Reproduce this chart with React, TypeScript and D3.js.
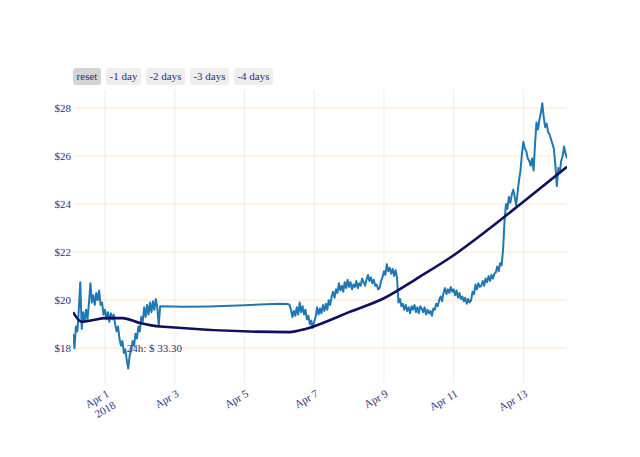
import { scaleUtc, scaleLinear, line, curveMonotoneX, curveLinear } from "d3";

// hourly price, first stretch
const priceAStart = "2018-03-31T02:00:00Z";
const priceA = [
  18.6, 18.0, 18.9, 18.7, 19.6, 20.75, 18.8, 19.5, 19.1, 19.6,
  19.2, 19.9, 20.7, 19.9, 20.2, 19.8, 20.3, 20.0, 20.4, 19.8,
  19.9, 19.4, 19.6, 19.2, 19.5, 19.1, 19.45, 19.2, 19.4, 19.0,
  18.7, 18.9, 18.4, 18.1, 18.3, 17.8, 17.95, 17.5, 17.15, 17.7,
  17.9, 18.3, 18.1, 18.6, 18.4, 18.9, 18.7, 19.3, 19.1, 19.7,
  19.3, 19.8, 19.4, 19.9, 19.5, 19.95, 19.6, 20.05, 19.7, 18.95,
  19.75,
];

// sparse points across the data gap
const gapTimes = [
  "2018-04-03T06:00:00Z",
  "2018-04-04T00:00:00Z",
  "2018-04-05T00:00:00Z",
  "2018-04-06T00:00:00Z",
  "2018-04-06T06:00:00Z",
];
const gapValues = [19.72, 19.74, 19.79, 19.85, 19.84];

// hourly price, second stretch
const priceBStart = "2018-04-06T07:00:00Z";
const priceB = [
  19.8, 19.6, 19.3, 19.55, 19.35, 19.7, 19.4, 19.9, 19.5, 19.75,
  19.4, 19.6, 19.2, 19.35, 19.0, 19.15, 18.85, 19.1, 19.3, 19.7,
  19.4, 19.65, 19.45, 19.8, 19.55, 19.85, 19.6, 20.0, 19.8, 20.15,
  20.35, 20.1, 20.45, 20.3, 20.7, 20.4, 20.6, 20.35, 20.75, 20.5,
  20.85, 20.55, 20.75, 20.45, 20.65, 20.55, 20.8, 20.5, 20.7, 20.6,
  20.9, 20.75, 20.6, 20.85, 21.05, 20.8, 20.95, 20.7, 20.85, 20.6,
  20.65, 20.45, 20.5, 20.8, 20.95, 21.2, 21.05, 21.5, 21.2, 21.35,
  21.1, 21.3, 21.0, 21.25, 20.95, 19.9, 20.05, 19.75, 19.85, 19.6,
  19.8, 19.55, 19.7, 19.45, 19.75, 19.6, 19.8, 19.5, 19.7, 19.45,
  19.75, 19.65, 19.5, 19.7, 19.4, 19.6, 19.45, 19.55, 19.35, 19.65,
  19.6, 19.85, 19.75, 20.0, 20.15, 19.95, 20.3, 20.5, 20.25, 20.45,
  20.3, 20.55, 20.35, 20.45, 20.2, 20.4, 20.1, 20.3, 20.05, 20.15,
  19.95, 20.1, 19.85, 20.05, 19.9, 20.0, 20.35, 20.25, 20.65, 20.45,
  20.7, 20.55, 20.6, 20.8, 20.6, 20.9, 20.75, 21.0, 20.8, 21.05,
  20.9, 21.1, 21.15, 21.4, 21.2, 21.55, 21.45, 22.1, 23.3, 24.0,
  23.8, 24.3, 24.05, 24.4, 24.6, 24.3, 23.95, 24.5, 25.0, 25.4,
  26.1, 26.6, 26.3, 26.2, 25.9, 25.8, 25.6, 25.9, 25.4, 26.5,
  27.4, 27.1, 27.5, 27.8, 28.2, 27.6, 27.2, 27.35, 27.0, 26.9,
  26.7, 26.5, 26.3, 25.6, 24.75, 25.5, 25.3, 25.8, 26.0, 26.4,
  26.1, 25.9,
];

const trendTimes = [
  "2018-03-31T02:00:00Z",
  "2018-03-31T08:00:00Z",
  "2018-03-31T16:00:00Z",
  "2018-04-01T00:00:00Z",
  "2018-04-01T12:00:00Z",
  "2018-04-02T00:00:00Z",
  "2018-04-02T14:00:00Z",
  "2018-04-06T07:00:00Z",
  "2018-04-06T18:00:00Z",
  "2018-04-07T06:00:00Z",
  "2018-04-08T00:00:00Z",
  "2018-04-09T00:00:00Z",
  "2018-04-10T00:00:00Z",
  "2018-04-11T00:00:00Z",
  "2018-04-12T00:00:00Z",
  "2018-04-13T00:00:00Z",
  "2018-04-14T06:00:00Z",
];
const trendValues = [
  19.5, 19.1, 19.17, 19.25, 19.25, 19.05, 18.9, 18.67, 18.8, 19.05,
  19.5, 20.08, 20.95, 21.87, 22.95, 24.1, 25.55,
];

const yTicks = [18, 20, 22, 24, 26, 28];
const xTicks = [
  "2018-04-01T00:00:00Z",
  "2018-04-03T00:00:00Z",
  "2018-04-05T00:00:00Z",
  "2018-04-07T00:00:00Z",
  "2018-04-09T00:00:00Z",
  "2018-04-11T00:00:00Z",
  "2018-04-13T00:00:00Z",
];
const xTickLabels = ["Apr 1", "Apr 3", "Apr 5", "Apr 7", "Apr 9", "Apr 11", "Apr 13"];
const buttonLabels = ["reset", "-1 day", "-2 days", "-3 days", "-4 days"];
const noteText = "24h: $ 33.30";

const HOUR = 3600 * 1000;
const FONT = "Liberation Serif, Times New Roman, Times, serif";
const TEXT = "#2e2e85";

type Pt = { t: Date; v: number };

function textWidth(s: string) {
  const c = document.createElement("canvas").getContext("2d");
  if (!c) return s.length * 5;
  c.font = `11px ${FONT}`;
  return c.measureText(s).width;
}

export default function App() {
  const W = 640;
  const H = 457;
  const plot = { left: 73, right: 567, top: 90, bottom: 383 };

  const startA = new Date(priceAStart).getTime();
  const startB = new Date(priceBStart).getTime();
  const prices: Pt[] = [
    ...priceA.map((v, i) => ({ t: new Date(startA + i * HOUR), v })),
    ...gapTimes.map((t, i) => ({ t: new Date(t), v: gapValues[i] })),
    ...priceB.map((v, i) => ({ t: new Date(startB + i * HOUR), v })),
  ];
  const trend: Pt[] = trendTimes.map((t, i) => ({ t: new Date(t), v: trendValues[i] }));

  const x = scaleUtc()
    .domain([prices[0].t, prices[prices.length - 1].t])
    .range([plot.left, plot.right]);
  const y = scaleLinear().domain([16.55, 28.75]).range([plot.bottom, plot.top]);

  const priceLine = line<Pt>()
    .x((d) => x(d.t))
    .y((d) => y(d.v))
    .curve(curveLinear);
  const trendLine = line<Pt>()
    .x((d) => x(d.t))
    .y((d) => y(d.v))
    .curve(curveMonotoneX);

  // range selector buttons
  let bx = plot.left;
  const buttons = buttonLabels.map((label, i) => {
    const w = Math.round(textWidth(label) + 7);
    const b = { label, x: bx, w, active: i === 0 };
    bx += w + 5;
    return b;
  });

  const notePoint = prices[37];

  return (
    <div style={{ position: "fixed", left: 0, top: 0 }}>
      <svg width={W} height={H} style={{ display: "block", background: "#fff" }} fontFamily={FONT}>
        <defs>
          <clipPath id="plotClip">
            <rect x={plot.left} y={plot.top} width={plot.right - plot.left} height={plot.bottom - plot.top} />
          </clipPath>
        </defs>

        {xTicks.map((t) => (
          <line
            key={t}
            x1={x(new Date(t))}
            x2={x(new Date(t))}
            y1={plot.top}
            y2={plot.bottom}
            stroke="#ededed"
            strokeWidth={1}
          />
        ))}
        {yTicks.map((v) => (
          <line
            key={v}
            x1={plot.left}
            x2={plot.right}
            y1={y(v)}
            y2={y(v)}
            stroke="#fde4c6"
            strokeWidth={1}
          />
        ))}

        <g clipPath="url(#plotClip)">
          <path d={priceLine(prices) ?? undefined} fill="none" stroke="#1f77b4" strokeWidth={2} strokeLinejoin="round" />
          <path d={trendLine(trend) ?? undefined} fill="none" stroke="#0f0f5f" strokeWidth={2.6} />
        </g>

        {yTicks.map((v) => (
          <text key={v} x={plot.left - 2} y={y(v)} dy="0.35em" textAnchor="end" fontSize={11} fill={TEXT}>
            ${v}
          </text>
        ))}

        {xTicks.map((t, i) => (
          <text
            key={t}
            transform={`translate(${x(new Date(t)) + 1},${plot.bottom + 6}) rotate(-30)`}
            textAnchor="end"
            fontSize={11}
            fill={TEXT}
          >
            <tspan x={0} dy="0.71em">{xTickLabels[i]}</tspan>
            {i === 0 && (
              <tspan x={0} dy="1.2em">2018</tspan>
            )}
          </text>
        ))}

        {buttons.map((b) => (
          <g key={b.label}>
            <rect x={b.x} y={68} width={b.w} height={17} rx={3} fill={b.active ? "#d4d4d4" : "#eeeeee"} />
            <text x={b.x + b.w / 2} y={76.5} dy="0.35em" textAnchor="middle" fontSize={11} fill={TEXT}>
              {b.label}
            </text>
          </g>
        ))}

        <text x={x(notePoint.t)} y={y(18)} dy="0.35em" fontSize={11} fill={TEXT}>
          {noteText}
        </text>
      </svg>
    </div>
  );
}
